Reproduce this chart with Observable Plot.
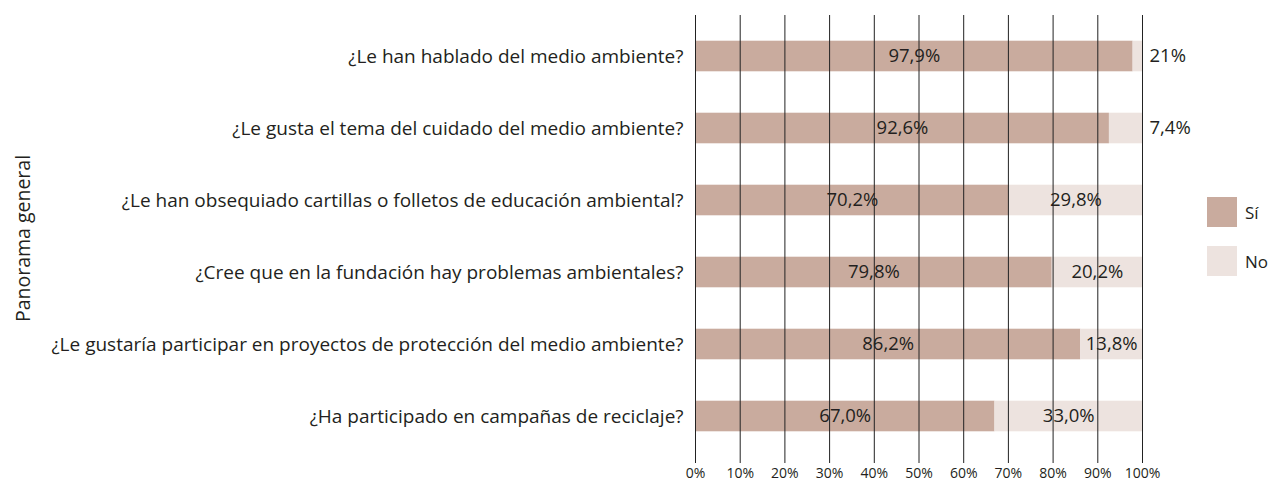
<!DOCTYPE html>
<html>
<head>
<meta charset="utf-8">
<script src="https://cdn.jsdelivr.net/npm/d3@7"></script>
<script src="https://cdn.jsdelivr.net/npm/@observablehq/plot@0.6"></script>
<style>
  html, body { margin: 0; padding: 0; background: #fff; }
  #wrap { position: relative; width: 1269px; height: 483px; overflow: hidden; font-family: "Open Sans", sans-serif; }
  .lg { position: absolute; left: 1207px; display: flex; align-items: center; font-size: 17px; color: #231f20; white-space: nowrap; }
  .sw { width: 30px; height: 30px; margin-right: 8px; flex: none; }
</style>
</head>
<body>
<div id="wrap"></div>
<script>
const questions = [
  "¿Le han hablado del medio ambiente?",
  "¿Le gusta el tema del cuidado del medio ambiente?",
  "¿Le han obsequiado cartillas o folletos de educación ambiental?",
  "¿Cree que en la fundación hay problemas ambientales?",
  "¿Le gustaría participar en proyectos de protección del medio ambiente?",
  "¿Ha participado en campañas de reciclaje?"
];
const si = [97.9, 92.6, 70.2, 79.8, 86.2, 67.0];
const no = [2.1, 7.4, 29.8, 20.2, 13.8, 33.0];
const siLabels = ["97,9%", "92,6%", "70,2%", "79,8%", "86,2%", "67,0%"];
const noLabels = ["21%", "7,4%", "29,8%", "20,2%", "13,8%", "33,0%"];
const noOutside = [true, true, false, false, false, false];
const series = ["Sí", "No"];
const colors = ["#c9ab9e", "#ede3df"];
const xTicks = [0, 10, 20, 30, 40, 50, 60, 70, 80, 90, 100];
const axisTitle = "Panorama general";

const rows = [];
questions.forEach((q, i) => {
  rows.push({q, series: "Sí", x1: 0, x2: si[i], label: siLabels[i], outside: false});
  rows.push({q, series: "No", x1: si[i], x2: si[i] + no[i], label: noLabels[i], outside: noOutside[i]});
});
const inside = rows.filter(d => !d.outside);
const outside = rows.filter(d => d.outside);

const chart = Plot.plot({
  width: 1269,
  height: 483,
  marginLeft: 695,
  marginRight: 127,
  marginTop: 19,
  marginBottom: 30,
  style: {fontFamily: "'Open Sans', sans-serif", color: "#231f20", background: "#fff"},
  x: {domain: [0, 100]},
  y: {domain: questions, padding: 0},
  color: {domain: series, range: colors},
  marks: [
    Plot.barX(rows, {x1: "x1", x2: "x2", y: "q", fill: "series", insetTop: 20.7, insetBottom: 20.7}),
    Plot.text(inside, {x: d => (d.x1 + d.x2) / 2, y: "q", text: "label", fontSize: 18.5, fill: "#231f20"}),
    Plot.text(outside, {x: "x2", y: "q", text: "label", textAnchor: "start", dx: 7, fontSize: 18.5, fill: "#231f20"}),
    Plot.ruleX(xTicks, {stroke: "#222", strokeWidth: 1, insetTop: -4, insetBottom: -10}),
    Plot.axisX({ticks: xTicks, tickSize: 0, tickPadding: 15, tickFormat: d => d + "%", fontSize: 14, label: null}),
    Plot.axisY({tickSize: 0, tickPadding: 12, fontSize: 19, label: null}),
    Plot.text([axisTitle], {frameAnchor: "left", textAnchor: "middle", dx: -672, dy: 2, rotate: -90, fontSize: 19.5, fill: "#231f20"})
  ]
});
const wrap = document.getElementById("wrap");
wrap.appendChild(chart);
series.forEach((s, i) => {
  const d = document.createElement("div");
  d.className = "lg";
  d.style.top = (197 + i * 49) + "px";
  d.innerHTML = `<div class="sw" style="background:${colors[i]}"></div><span>${s}</span>`;
  wrap.appendChild(d);
});
</script>
</body>
</html>
